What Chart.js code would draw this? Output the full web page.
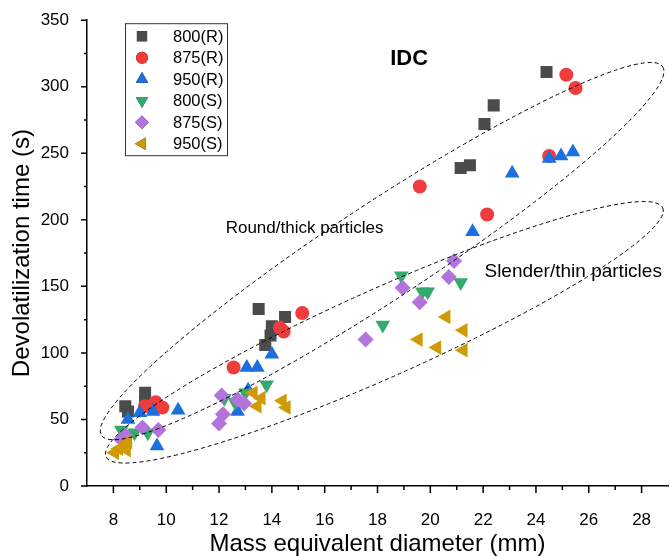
<!DOCTYPE html>
<html>
<head>
<meta charset="utf-8">
<script src="https://cdn.jsdelivr.net/npm/chart.js@4/dist/chart.umd.min.js"></script>
<style>
  html, body { margin: 0; padding: 0; background: #fff; }
</style>
</head>
<body>
<canvas id="myChart" width="670" height="556"></canvas>
<script>
// values
const r800_x = [8.45, 8.55, 9.2, 9.2, 13.5, 14.0, 13.95, 13.75, 14.5, 21.15, 21.5, 22.05, 22.4, 24.4];
const r800_y = [60, 56, 70, 64, 133, 120, 113, 106, 127, 239, 241, 272, 286, 311];

const r875_x = [9.2, 9.6, 9.85, 12.55, 14.3, 14.45, 15.15, 19.6, 22.15, 24.5, 25.15, 25.5];
const r875_y = [60, 63, 59, 89, 119, 116, 130, 225, 204, 248, 309, 299];

const r950_x = [8.55, 9.0, 9.5, 9.65, 10.45, 12.7, 13.05, 13.1, 13.45, 14.0, 21.6, 23.1, 24.5, 24.95, 25.4];
const r950_y = [50, 55, 56, 30, 57, 56, 89, 72, 89, 99, 191, 235, 246, 248, 251];

const s800_x = [8.3, 8.8, 9.3, 12.2, 12.6, 13.0, 13.8, 18.2, 18.9, 19.7, 19.9, 21.15];
const s800_y = [42, 40, 40, 66, 63, 70, 76, 121, 158, 146, 146, 153];

const s875_x = [8.3, 8.45, 9.1, 9.7, 12.0, 12.15, 12.1, 12.7, 12.95, 17.55, 18.95, 19.6, 20.7, 20.9];
const s875_y = [35, 38, 44, 42, 47, 54, 68, 65, 62, 110, 149, 138, 157, 169];

const s950_x = [8.05, 8.2, 8.45, 8.5, 8.55, 13.3, 13.6, 13.45, 14.4, 14.55, 19.55, 20.25, 20.6, 21.25, 21.25];
const s950_y = [25, 28, 30, 27, 33, 70, 66, 60, 64, 59, 110, 104, 127, 117, 102];

const xTicks = [8, 9, 10, 11, 12, 13, 14, 15, 16, 17, 18, 19, 20, 21, 22, 23, 24, 25, 26, 27, 28];
const yTicks = [0, 25, 50, 75, 100, 125, 150, 175, 200, 225, 250, 275, 300, 325, 350];

const FONT = "'Liberation Sans', Arial, sans-serif";

function zip(xs, ys) {
    return xs.map((x, i) => ({ x: x, y: ys[i] }));
}

const series = [
    { label: '800(R)', x: r800_x, y: r800_y, style: 'rect', rot: 0, r: 8.5, color: '#4b4b4b' },
    { label: '875(R)', x: r875_x, y: r875_y, style: 'circle', rot: 0, r: 7, color: '#ef3d3d' },
    { label: '950(R)', x: r950_x, y: r950_y, style: 'triangle', rot: 0, r: 8.5, color: '#1c6fde' },
    { label: '800(S)', x: s800_x, y: s800_y, style: 'triangle', rot: 180, r: 8.5, color: '#35aa6c' },
    { label: '875(S)', x: s875_x, y: s875_y, style: 'rectRot', rot: 0, r: 8, color: '#b273db' },
    { label: '950(S)', x: s950_x, y: s950_y, style: 'triangle', rot: -90, r: 8.5, color: '#cf9a05' }
];

// dashed ellipses: two tips in data units + half width in px
const ellipses = [
    { x1: 7.55, y1: 38, x2: 28.8, y2: 315, half: 48 },
    { x1: 7.72, y1: 22, x2: 28.8, y2: 209, half: 44 }
];

const notes = [
    { text: 'IDC', x: 19.2, y: 321, bold: true, size: 22, align: 'center' },
    { text: 'Round/thick particles', x: 12.25, y: 194, bold: false, size: 17, align: 'left' },
    { text: 'Slender/thin particles', x: 22.05, y: 161, bold: false, size: 19, align: 'left' }
];

const extras = {
    id: 'extras',
    afterDraw(chart) {
        const ctx = chart.ctx;
        const xs = chart.scales.x, ys = chart.scales.y;
        const area = chart.chartArea;
        ctx.save();

        // ellipses
        ctx.strokeStyle = '#000';
        ctx.lineWidth = 1;
        ctx.setLineDash([4, 3]);
        ellipses.forEach(e => {
            const ax = xs.getPixelForValue(e.x1), ay = ys.getPixelForValue(e.y1);
            const bx = xs.getPixelForValue(e.x2), by = ys.getPixelForValue(e.y2);
            const cx = (ax + bx) / 2, cy = (ay + by) / 2;
            const a = Math.hypot(bx - ax, by - ay) / 2;
            const ang = Math.atan2(by - ay, bx - ax);
            ctx.beginPath();
            ctx.ellipse(cx, cy, a, e.half, ang, 0, Math.PI * 2);
            ctx.stroke();
        });
        ctx.setLineDash([]);

        // tick marks (major / minor)
        ctx.lineWidth = 1.5;
        ctx.strokeStyle = '#000';
        ctx.beginPath();
        xTicks.forEach(v => {
            const p = xs.getPixelForValue(v);
            const len = v % 2 === 0 ? 7 : 4;
            ctx.moveTo(p, area.bottom);
            ctx.lineTo(p, area.bottom + len);
        });
        yTicks.forEach(v => {
            const p = ys.getPixelForValue(v);
            const len = v % 50 === 0 ? 6 : 3;
            ctx.moveTo(area.left, p);
            ctx.lineTo(area.left - len, p);
        });
        ctx.stroke();

        // text notes
        ctx.fillStyle = '#000';
        ctx.textBaseline = 'middle';
        notes.forEach(n => {
            ctx.font = (n.bold ? 'bold ' : '') + n.size + 'px ' + FONT;
            ctx.textAlign = n.align;
            ctx.fillText(n.text, xs.getPixelForValue(n.x), ys.getPixelForValue(n.y));
        });

        // legend box
        const lx = area.left + 38, ly = area.top + 3;
        ctx.lineWidth = 1;
        ctx.strokeStyle = '#333';
        ctx.strokeRect(lx + 0.5, ly + 0.5, 102, 132);
        ctx.font = '16.5px ' + FONT;
        ctx.textAlign = 'left';
        series.forEach((s, i) => {
            const yy = ly + 13 + i * 21.5;
            Chart.helpers.drawPoint(ctx, {
                pointStyle: s.style, rotation: s.rot, radius: s.r * 0.85, borderWidth: 0
            }, lx + 17, yy);
            ctx.fillStyle = s.color;
            ctx.fill();
            ctx.fillStyle = '#000';
            ctx.fillText(s.label, lx + 48, yy + 1);
        });
        ctx.restore();
    }
};

const datasets = series.map((s, i) => ({
    label: s.label,
    data: zip(s.x, s.y),
    pointStyle: s.style,
    rotation: s.rot,
    pointRadius: s.r,
    pointBackgroundColor: s.color,
    pointBorderColor: s.color,
    pointBorderWidth: 0,
    showLine: false,
    order: series.length - i
}));

var u = document.getElementById('myChart').getContext('2d');
var char = new Chart(u, {
    type: 'scatter',
    data: { datasets: datasets },
    options: {
        responsive: false,
        animation: false,
        layout: { autoPadding: false, padding: { top: 20, right: 2, left: 0, bottom: 0 } },
        plugins: { legend: { display: false }, tooltip: { enabled: false } },
        scales: {
            x: {
                type: 'linear',
                min: 7,
                max: 29,
                afterBuildTicks: s => { s.ticks = xTicks.map(v => ({ value: v })); },
                afterFit: s => { s.height = 70; },
                grid: { display: false },
                border: { color: '#000', width: 1.5 },
                ticks: {
                    autoSkip: false,
                    maxRotation: 0,
                    padding: 16,
                    color: '#000',
                    font: { family: FONT, size: 17 },
                    callback: v => (v % 2 === 0 ? v : '')
                },
                title: {
                    display: true,
                    text: 'Mass equivalent diameter (mm)',
                    color: '#000',
                    font: { family: FONT, size: 24 },
                    padding: { top: 0, bottom: -3 }
                }
            },
            y: {
                type: 'linear',
                min: 0,
                max: 350,
                afterBuildTicks: s => { s.ticks = yTicks.map(v => ({ value: v })); },
                afterFit: s => { s.width = 87; },
                grid: { display: false },
                border: { color: '#000', width: 1.5 },
                ticks: {
                    autoSkip: false,
                    padding: 10,
                    color: '#000',
                    font: { family: FONT, size: 17 },
                    callback: v => (v % 50 === 0 ? v : '')
                },
                title: {
                    display: true,
                    text: 'Devolatilization time (s)',
                    color: '#000',
                    font: { family: FONT, size: 24 },
                    padding: { top: 8, bottom: 0 }
                }
            }
        }
    },
    plugins: [extras]
});
</script>
</body>
</html>
